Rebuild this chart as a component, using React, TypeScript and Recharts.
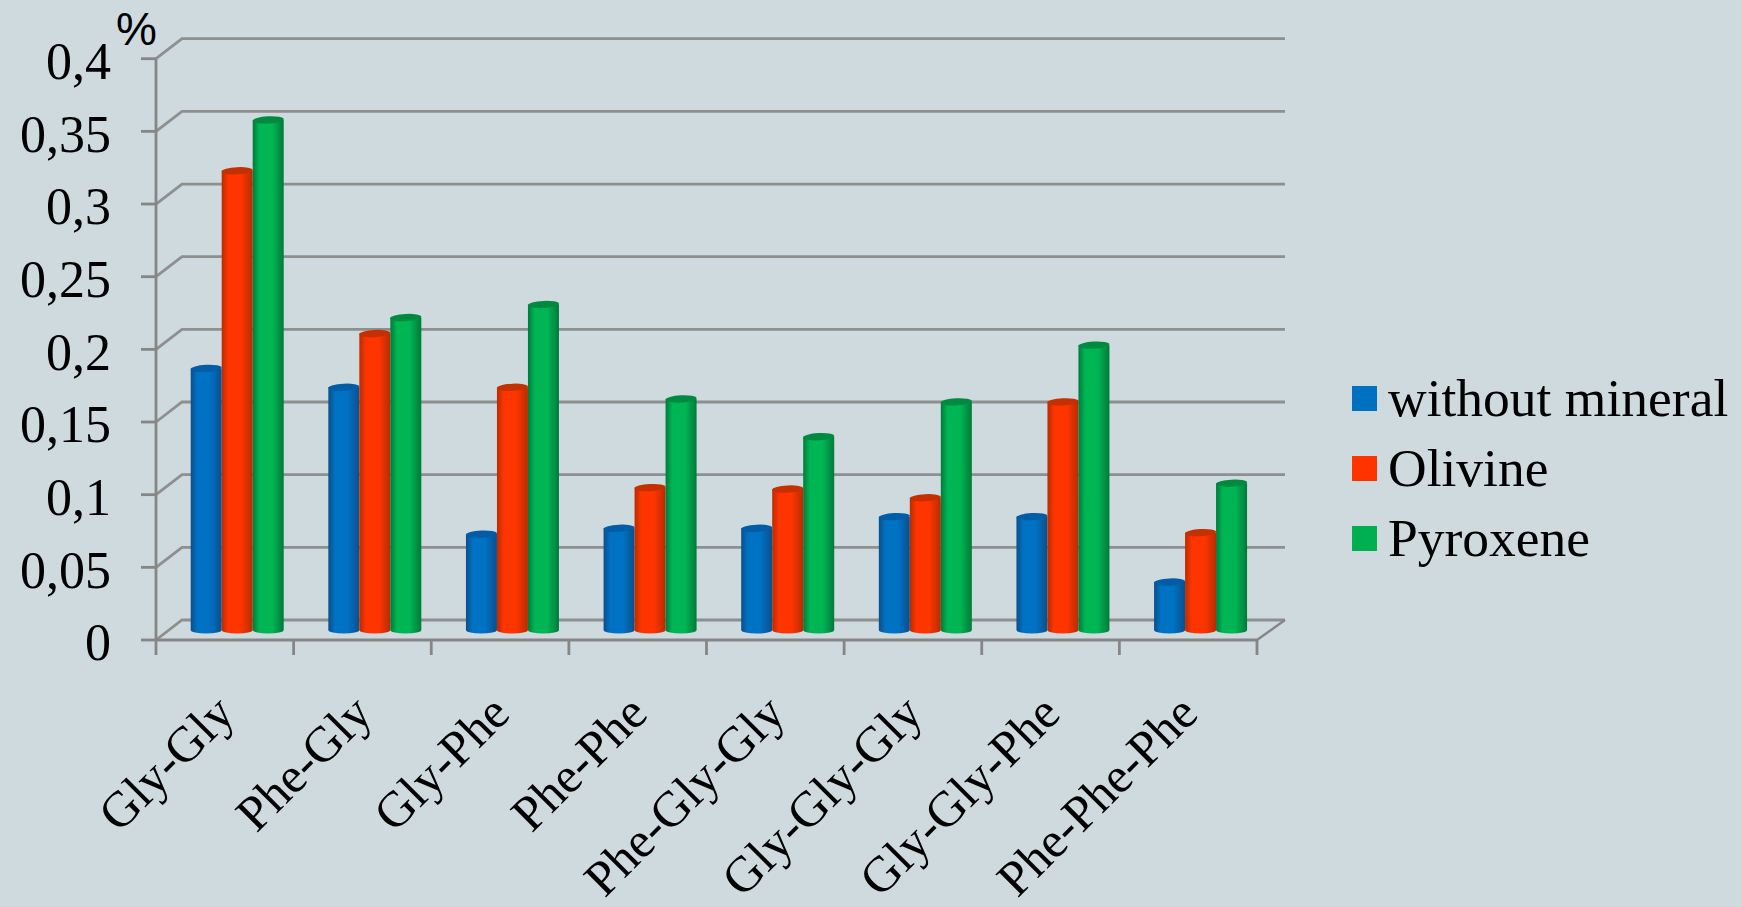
import React from "react";
import { BarChart, Bar, XAxis, YAxis, CartesianGrid, Legend } from "recharts";

// Dipeptide and tripeptide yields, in percent
const peptides = ["Gly-Gly", "Phe-Gly", "Gly-Phe", "Phe-Phe", "Phe-Gly-Gly", "Gly-Gly-Gly", "Gly-Gly-Phe", "Phe-Phe-Phe"];
const withoutMineral = [0.18, 0.167, 0.066, 0.07, 0.07, 0.078, 0.078, 0.033];
const olivine = [0.316, 0.204, 0.167, 0.098, 0.097, 0.091, 0.157, 0.067];
const pyroxene = [0.351, 0.215, 0.224, 0.159, 0.133, 0.157, 0.196, 0.101];
const yTicks = [0, 0.05, 0.1, 0.15, 0.2, 0.25, 0.3, 0.35, 0.4];

const rows = peptides.map((name, i) => ({
  name,
  withoutMineral: withoutMineral[i],
  olivine: olivine[i],
  pyroxene: pyroxene[i],
}));

const SERIF = "'Liberation Serif', serif";
const AXIS_GREY = "#868686";
// Offset from the front plane of the pseudo-3D box to its back wall
const DEPTH_X = 26;
const DEPTH_Y = -20;
// Columns stand midway through the box
const BAR_DX = 12.7;
const BAR_DY = -10;
const BAND = 137.625;
const LEGEND_WIDTH = 390;

const palettes = [
  { id: "cylBlue", edge: "#0a4f8c", mid: "#0072c4", top: "#035ca6" },
  { id: "cylRed", edge: "#b82c00", mid: "#ff3500", top: "#c43000" },
  { id: "cylGreen", edge: "#007a3a", mid: "#00b654", top: "#008a40" },
];

function cylinder(paletteIndex: number) {
  const p = palettes[paletteIndex];
  return (props: any) => {
    const w = props.width;
    const h = props.height;
    const x = props.x + BAR_DX;
    const y = props.y + BAR_DY;
    const rx = w / 2;
    const ry = 3.6;
    const d = `M${x},${y} L${x},${y + h} A${rx},${ry} 0 0 0 ${x + w},${y + h} L${x + w},${y} Z`;
    return (
      <g>
        <path d={d} fill={`url(#${p.id})`} />
        <ellipse
          cx={x + rx}
          cy={y}
          rx={rx}
          ry={ry}
          fill={p.top}
          transform={`rotate(-3 ${x + rx} ${y})`}
        />
      </g>
    );
  };
}

// A gridline runs up the side wall, then along the back wall; the floor also gets a right edge
function wallLine(props: any) {
  const { x1, x2, y1, index } = props;
  const isFloor = Math.abs(y1 - 640) < 1;
  const bx = x1 + DEPTH_X;
  const by = y1 + DEPTH_Y;
  return (
    <g key={`wall-${index}`}>
      <polyline
        points={`${x1},${y1} ${bx},${by} ${x2 + DEPTH_X + 2},${by}`}
        fill="none"
        stroke={AXIS_GREY}
        strokeWidth={2.8}
        opacity={0.9}
      />
      {isFloor ? (
        <line x1={x2} y1={y1} x2={x2 + DEPTH_X + 2} y2={by} stroke={AXIS_GREY} strokeWidth={2.4} />
      ) : null}
    </g>
  );
}

// Tick marks sit on the category boundaries, labels on the category centres
function CategoryTick(props: any) {
  const { x, payload, index } = props;
  const ax = x + 12;
  const ay = 716;
  const left = x - BAND / 2;
  return (
    <g>
      <line x1={left} y1={640} x2={left} y2={655} stroke={AXIS_GREY} strokeWidth={2.8} />
      {index === peptides.length - 1 ? (
        <line x1={x + BAND / 2} y1={640} x2={x + BAND / 2} y2={655} stroke={AXIS_GREY} strokeWidth={2.8} />
      ) : null}
      <text
        x={ax}
        y={ay}
        textAnchor="end"
        fontFamily={SERIF}
        fontSize={50}
        fill="#000"
        transform={`rotate(-45 ${ax} ${ay})`}
      >
        {payload.value}
      </text>
    </g>
  );
}

function LegendBlock(props: any) {
  return (
    <div style={{ fontFamily: SERIF, fontSize: 53.5, color: "#000", lineHeight: "70px" }}>
      {(props.payload || []).map((item: any) => (
        <div key={item.value} style={{ display: "flex", alignItems: "center", height: 70, whiteSpace: "nowrap" }}>
          <span style={{ width: 25, height: 25, background: item.color, marginRight: 11, flex: "none" }} />
          <span>{item.value}</span>
        </div>
      ))}
    </div>
  );
}

function PercentLabel() {
  return (
    <text x={116} y={45} fontFamily="'Liberation Sans', sans-serif" fontSize={46} fill="#000">
      %
    </text>
  );
}

export default function App() {
  return (
    <div style={{ position: "fixed", left: 0, top: 0, width: 1742, height: 907, background: "#cfdadf", overflow: "hidden" }}>
      <BarChart
        width={1742}
        height={907}
        data={rows}
        margin={{ top: 58.7, right: 485 - LEGEND_WIDTH, bottom: 0, left: 0 }}
        barSize={31}
        barGap={0}
      >
        <defs>
          {palettes.map((p) => (
            <linearGradient key={p.id} id={p.id} x1="0" y1="0" x2="1" y2="0">
              <stop offset="0" stopColor={p.edge} />
              <stop offset="0.22" stopColor={p.mid} />
              <stop offset="0.62" stopColor={p.mid} />
              <stop offset="1" stopColor={p.edge} />
            </linearGradient>
          ))}
        </defs>
        <CartesianGrid vertical={false} horizontal={wallLine} />
        <XAxis
          dataKey="name"
          height={267}
          interval={0}
          tick={<CategoryTick />}
          tickLine={false}
          axisLine={{ stroke: AXIS_GREY, strokeWidth: 2.8 }}
        />
        <YAxis
          width={156}
          domain={[0, 0.4]}
          ticks={yTicks}
          interval={0}
          tickFormatter={(v: number) => String(v).replace(".", ",")}
          tickSize={15}
          tickMargin={30}
          tick={{ fontFamily: SERIF, fontSize: 52, fill: "#000", dy: 2 }}
          tickLine={{ stroke: AXIS_GREY, strokeWidth: 2.8 }}
          axisLine={{ stroke: AXIS_GREY, strokeWidth: 2.8 }}
          label={<PercentLabel />}
        />
        <Legend
          layout="vertical"
          align="right"
          verticalAlign="middle"
          width={LEGEND_WIDTH}
          itemSorter={null}
          content={<LegendBlock />}
          wrapperStyle={{ position: "absolute", left: 1352, top: 363, width: LEGEND_WIDTH }}
        />
        <Bar dataKey="withoutMineral" name="without mineral" fill="#0070c0" isAnimationActive={false} shape={cylinder(0)} />
        <Bar dataKey="olivine" name="Olivine" fill="#ff3300" isAnimationActive={false} shape={cylinder(1)} />
        <Bar dataKey="pyroxene" name="Pyroxene" fill="#00b050" isAnimationActive={false} shape={cylinder(2)} />
      </BarChart>
    </div>
  );
}
